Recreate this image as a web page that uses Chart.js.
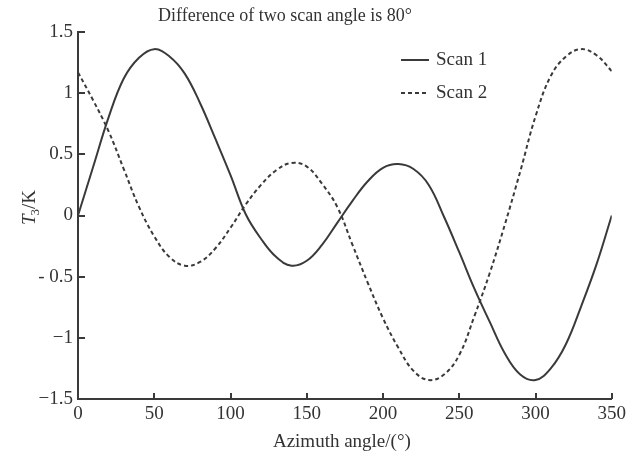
<!DOCTYPE html>
<html>
<head>
<meta charset="utf-8">
<script src="https://cdn.jsdelivr.net/npm/chart.js@4/dist/chart.umd.min.js"></script>
<style>
  html, body { margin: 0; padding: 0; background: #ffffff; }
  #wrap { position: relative; width: 630px; height: 460px; }
</style>
</head>
<body>
<div id="wrap"><canvas id="c" width="630" height="460"></canvas></div>
<script>
// Azimuth angle (degrees)
const azimuth = [0, 10, 20, 30, 40, 50, 60, 70, 80, 90, 100, 110, 120, 130, 140, 150, 160, 170,
                 180, 190, 200, 210, 220, 230, 240, 250, 260, 270, 280, 290, 300, 310, 320, 330, 340, 350];
// T3 (K) for each scan
const scan1 = [0.00, 0.40, 0.80, 1.12, 1.29, 1.36, 1.30, 1.16, 0.92, 0.63, 0.33, 0.01, -0.19, -0.34, -0.41, -0.37,
               -0.24, -0.06, 0.12, 0.28, 0.39, 0.42, 0.38, 0.25, -0.01, -0.30, -0.60, -0.87, -1.13, -1.30, -1.345,
               -1.25, -1.05, -0.74, -0.40, 0.00];
const scan2 = [1.17, 0.94, 0.69, 0.38, 0.07, -0.17, -0.34, -0.41, -0.38, -0.27, -0.10, 0.09, 0.25, 0.37, 0.43, 0.40,
               0.26, 0.07, -0.24, -0.55, -0.84, -1.08, -1.27, -1.345, -1.30, -1.14, -0.82, -0.47, -0.07, 0.36, 0.81,
               1.14, 1.30, 1.36, 1.31, 1.18];
const seriesNames = ['Scan 1', 'Scan 2'];
const xTicks = [0, 50, 100, 150, 200, 250, 300, 350];
const yTicks = [-1.5, -1, -0.5, 0, 0.5, 1, 1.5];
const yTickLabels = ['\u22121.5', '\u22121', '- 0.5', '0', '0.5', '1', '1.5'];

const INK = '#3a3a3a';
const FONT = '"Liberation Serif", "Times New Roman", serif';

const toPoints = ys => azimuth.map((x, i) => ({ x: x, y: ys[i] }));

// Titles, inward tick marks and the legend
const decorations = {
  id: 'decorations',
  afterDraw(chart) {
    const ctx = chart.ctx;
    const xs = chart.scales.x, ys = chart.scales.y;
    const area = chart.chartArea;
    ctx.save();
    ctx.strokeStyle = INK;
    ctx.lineWidth = 2;
    // tick marks pointing into the plot
    xTicks.forEach(v => {
      const px = Math.round(xs.getPixelForValue(v));
      ctx.beginPath();
      ctx.moveTo(px, area.bottom);
      ctx.lineTo(px, area.bottom - 6);
      ctx.stroke();
    });
    yTicks.forEach(v => {
      const py = Math.round(ys.getPixelForValue(v));
      ctx.beginPath();
      ctx.moveTo(area.left, py);
      ctx.lineTo(area.left + 7, py);
      ctx.stroke();
    });

    ctx.fillStyle = '#333333';
    // chart title
    ctx.font = '18px ' + FONT;
    ctx.textAlign = 'center';
    ctx.textBaseline = 'alphabetic';
    ctx.fillText('Difference of two scan angle is 80\u00b0', 285, 21);

    // x axis title
    ctx.font = '19px ' + FONT;
    ctx.fillText('Azimuth angle/(\u00b0)', (area.left + area.right) / 2 - 3, 447);

    // y axis title: T3/K with italic T and subscript 3
    ctx.save();
    ctx.translate(35, 207);
    ctx.rotate(-Math.PI / 2);
    ctx.textAlign = 'left';
    const partT = 'T', part3 = '3', partK = '/K';
    ctx.font = 'italic 19px ' + FONT;
    const wT = ctx.measureText(partT).width;
    ctx.font = '13px ' + FONT;
    const w3 = ctx.measureText(part3).width;
    ctx.font = '19px ' + FONT;
    const wK = ctx.measureText(partK).width;
    let x0 = -(wT + w3 + wK) / 2;
    ctx.font = 'italic 19px ' + FONT;
    ctx.fillText(partT, x0, 0);
    ctx.font = '13px ' + FONT;
    ctx.fillText(part3, x0 + wT - 1, 4);
    ctx.font = '19px ' + FONT;
    ctx.fillText(partK, x0 + wT + w3 - 1, 0);
    ctx.restore();

    // legend
    const rows = [60, 93];
    chart.data.datasets.forEach((ds, i) => {
      const y = rows[i];
      ctx.strokeStyle = ds.borderColor;
      ctx.lineWidth = ds.borderWidth;
      ctx.setLineDash(ds.borderDash || []);
      ctx.beginPath();
      ctx.moveTo(401, y);
      ctx.lineTo(429, y);
      ctx.stroke();
      ctx.setLineDash([]);
      ctx.font = '19px ' + FONT;
      ctx.textAlign = 'left';
      ctx.textBaseline = 'middle';
      ctx.fillText(ds.label, 436, y);
    });
    ctx.restore();
  }
};

new Chart(document.getElementById('c'), {
  type: 'line',
  data: {
    datasets: [
      {
        label: seriesNames[0],
        data: toPoints(scan1),
        borderColor: INK,
        borderWidth: 2,
        pointRadius: 0,
        fill: false,
        tension: 0.4
      },
      {
        label: seriesNames[1],
        data: toPoints(scan2),
        borderColor: INK,
        borderWidth: 2,
        borderDash: [4, 3],
        pointRadius: 0,
        fill: false,
        tension: 0.4
      }
    ]
  },
  options: {
    responsive: false,
    animation: false,
    events: [],
    layout: { padding: { left: 0, right: 18, top: 32, bottom: 0 } },
    plugins: {
      legend: { display: false },
      title: { display: false },
      tooltip: { enabled: false }
    },
    scales: {
      x: {
        type: 'linear',
        min: 0,
        max: 350,
        afterBuildTicks: s => { s.ticks = xTicks.map(v => ({ value: v })); },
        afterFit: s => { s.height = 61; },
        grid: { display: false, drawTicks: false, tickLength: 0 },
        border: { display: true, color: INK, width: 2 },
        ticks: {
          color: '#333333',
          font: { family: FONT, size: 19 },
          padding: 4,
          maxRotation: 0,
          autoSkip: false
        }
      },
      y: {
        type: 'linear',
        min: -1.5,
        max: 1.5,
        afterBuildTicks: s => { s.ticks = yTicks.map(v => ({ value: v })); },
        afterFit: s => { s.width = 78; },
        grid: { display: false, drawTicks: false, tickLength: 0 },
        border: { display: true, color: INK, width: 2 },
        ticks: {
          color: '#333333',
          font: { family: FONT, size: 19 },
          padding: 5,
          autoSkip: false,
          callback: (v) => {
            const i = yTicks.indexOf(v);
            return i >= 0 ? yTickLabels[i] : '';
          }
        }
      }
    }
  },
  plugins: [decorations]
});
</script>
</body>
</html>
